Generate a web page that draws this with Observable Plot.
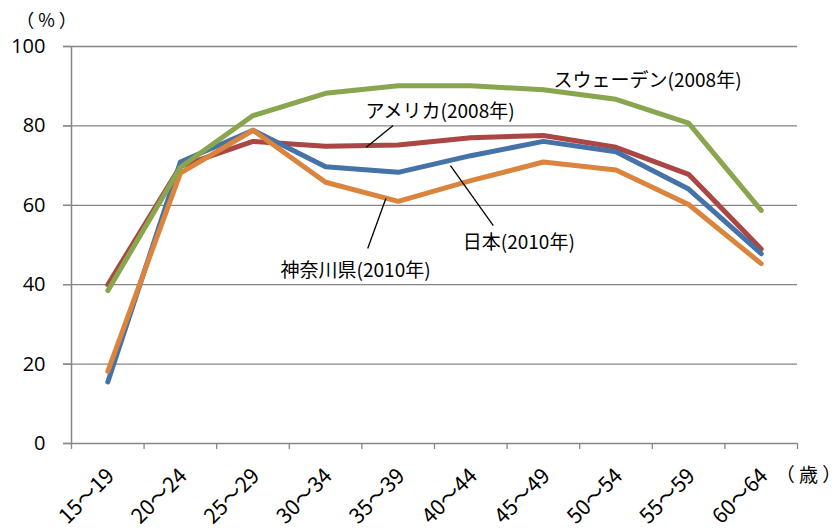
<!DOCTYPE html>
<html><head><meta charset="utf-8">
<script src="https://cdn.jsdelivr.net/npm/d3@7"></script>
<script src="https://cdn.jsdelivr.net/npm/@observablehq/plot@0.6"></script>
<style>body{margin:0;background:#fff}</style>
</head><body><div id="chart"></div>
<script>
const ageGroups = ["15〜19","20〜24","25〜29","30〜34","35〜39","40〜44","45〜49","50〜54","55〜59","60〜64"];
const japan2010    = [15.5, 70.9, 78.9, 69.7, 68.3, 72.5, 76.1, 73.5, 64.1, 47.8];
const usa2008      = [40.0, 69.8, 76.1, 74.9, 75.2, 77.0, 77.6, 74.6, 67.8, 49.0];
const sweden2008   = [38.5, 69.6, 82.6, 88.2, 90.1, 90.1, 89.1, 86.7, 80.7, 58.7];
const kanagawa2010 = [18.2, 68.1, 78.9, 65.8, 61.0, 66.2, 70.9, 68.9, 60.2, 45.3];
const yTicks = [0, 20, 40, 60, 80, 100];
const seriesNames  = ["アメリカ(2008年)", "日本(2010年)", "神奈川県(2010年)", "スウェーデン(2008年)"];
const seriesValues = [usa2008, japan2010, kanagawa2010, sweden2008];
const seriesColors = ["#AA4643", "#4572A7", "#DB843D", "#89A54E"];
// annotation label anchors in data units (x = category index, y = %)
const labelX = [3.55, 4.89, 2.38, 6.14];
const labelY = [83.4, 50.6, 43.6, 91.4];
// leader lines in data units
const leaderFrom = [[3.56, 74.6], [4.72, 70.0], [3.83, 61.7]];
const leaderTo   = [[3.93, 80.1], [5.31, 54.9], [3.58, 49.1]];

const rows = [];
seriesNames.forEach((s, k) => seriesValues[k].forEach((v, i) => rows.push({series: s, i, v})));
const labels = seriesNames.map((s, k) => ({s, x: labelX[k], y: labelY[k]}));
const leaders = leaderFrom.map((f, k) => ({x1: f[0], y1: f[1], x2: leaderTo[k][0], y2: leaderTo[k][1]}));
const bounds = d3.range(ageGroups.length + 1).map(i => i - 0.5);

const jp = "'Noto Sans CJK JP', 'Noto Sans', sans-serif";
const chart = Plot.plot({
  width: 840, height: 532,
  marginLeft: 71, marginRight: 43, marginTop: 46, marginBottom: 89,
  style: {fontFamily: jp, background: "#fff", color: "#000"},
  x: {domain: [-0.5, ageGroups.length - 0.5], axis: null},
  y: {domain: [0, 100], axis: null},
  color: {domain: seriesNames, range: seriesColors},
  marks: [
    Plot.gridY(yTicks.filter(d => d > 0), {stroke: "#868686", strokeOpacity: 1, strokeWidth: 1.3, insetLeft: -8}),
    Plot.axisY({ticks: yTicks, tickSize: 8, tickPadding: 18, stroke: "#868686", strokeWidth: 1.3,
      fontSize: 20, fontFamily: "'Open Sans', sans-serif", tickFormat: d => d, label: null}),
    Plot.ruleX([-0.5], {stroke: "#868686", strokeWidth: 1.5}),
    Plot.ruleY([0], {stroke: "#868686", strokeWidth: 1.5, insetLeft: -8}),
    Plot.axisX({ticks: bounds, tickSize: 6, tickFormat: () => "", stroke: "#868686", strokeWidth: 1.3, label: null}),
    Plot.text(ageGroups, {x: (d, i) => i, y: 0, text: d => d, rotate: -45, textAnchor: "end",
      dy: 29, dx: 3, fontSize: 21, fill: "#000"}),
    Plot.line(rows, {x: "i", y: "v", z: "series", stroke: "series", strokeWidth: 5,
      strokeLinecap: "round", strokeLinejoin: "round"}),
    Plot.link(leaders, {x1: "x1", y1: "y1", x2: "x2", y2: "y2", stroke: "#000", strokeWidth: 1.3}),
    Plot.text(labels, {x: "x", y: "y", text: "s", textAnchor: "start", fontSize: 19, fill: "#000"}),
    Plot.text(["（ % ）"], {frameAnchor: "top-left", dx: -25, dy: -32, fontSize: 18, textAnchor: "middle", fill: "#000"}),
    Plot.text(["（ 歳 ）"], {frameAnchor: "bottom-right", dx: 11, dy: 38, fontSize: 19, textAnchor: "middle", fill: "#000"})
  ]
});
document.getElementById("chart").appendChild(chart);
</script>
</body></html>
